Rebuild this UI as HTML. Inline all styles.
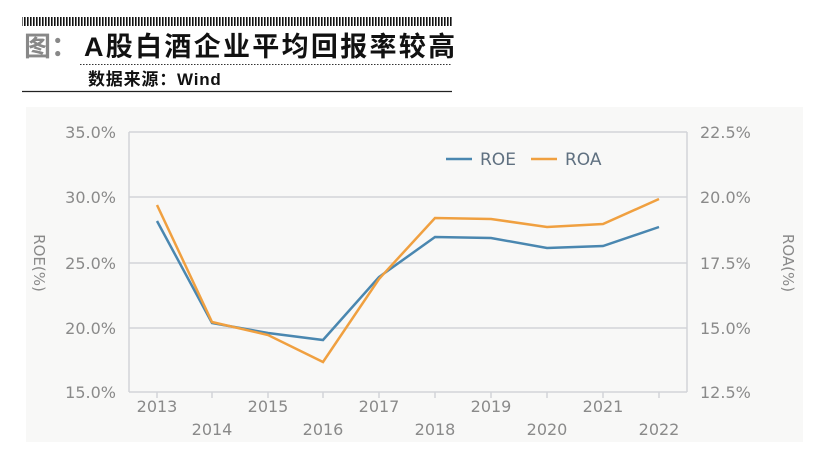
<!DOCTYPE html>
<html><head><meta charset="utf-8"><style>
body{margin:0;width:818px;height:462px;background:#fff;overflow:hidden;font-family:"Liberation Sans","Noto Sans CJK SC",sans-serif;}
</style></head><body>
<svg width="818" height="462" xmlns="http://www.w3.org/2000/svg" style="position:absolute;left:0;top:0">
<defs><pattern id="tk" width="3" height="9" patternUnits="userSpaceOnUse"><rect x="0" y="0" width="1.6" height="9" fill="#111"/></pattern></defs>
<rect x="22" y="17" width="430" height="9" fill="url(#tk)"/>
<text x="24" y="56" font-size="27" font-weight="bold" fill="#888" font-family="Noto Sans CJK SC,sans-serif">图：</text>
<text x="84" y="56" font-size="27" font-weight="bold" letter-spacing="2.3" fill="#111" font-family="Liberation Sans,Noto Sans CJK SC,sans-serif">A股白酒企业平均回报率较高</text>
<line x1="80" y1="64.5" x2="452" y2="64.5" stroke="#333" stroke-width="1" stroke-dasharray="1.5,1.5"/>
<text x="88" y="85" font-size="17" font-weight="bold" letter-spacing="0.8" fill="#111" font-family="Liberation Sans,Noto Sans CJK SC,sans-serif">数据来源：Wind</text>
<line x1="22" y1="91.5" x2="452" y2="91.5" stroke="#222" stroke-width="1.2"/>
<rect x="26" y="107" width="777" height="335" fill="#f8f8f7"/>
<g stroke="#d2d4d8" stroke-width="1.5" fill="none">
<line x1="129" y1="132" x2="687" y2="132"/><line x1="129" y1="197" x2="687" y2="197"/><line x1="129" y1="263" x2="687" y2="263"/><line x1="129" y1="328" x2="687" y2="328"/><line x1="129" y1="392" x2="687" y2="392"/>
<line x1="129" y1="132" x2="129" y2="392"/><line x1="687" y1="132" x2="687" y2="392"/>
<path d="M157 392v6M212 392v6M268 392v6M323 392v6M379 392v6M435 392v6M491 392v6M547 392v6M603 392v6M659 392v6"/>
</g>
<g font-size="16" fill="#8a8a8a" font-family="DejaVu Sans,sans-serif">
<g text-anchor="end"><text x="116" y="138">35.0%</text><text x="116" y="203">30.0%</text><text x="116" y="269">25.0%</text><text x="116" y="334">20.0%</text><text x="116" y="398">15.0%</text></g>
<g text-anchor="start"><text x="700" y="138">22.5%</text><text x="700" y="203">20.0%</text><text x="700" y="269">17.5%</text><text x="700" y="334">15.0%</text><text x="700" y="398">12.5%</text></g>
<g text-anchor="middle"><text x="157" y="412">2013</text><text x="268" y="412">2015</text><text x="379" y="412">2017</text><text x="491" y="412">2019</text><text x="603" y="412">2021</text>
<text x="212" y="435">2014</text><text x="323" y="435">2016</text><text x="435" y="435">2018</text><text x="547" y="435">2020</text><text x="659" y="435">2022</text></g>
<text transform="translate(34,263) rotate(90)" text-anchor="middle" font-size="15">ROE(%)</text>
<text transform="translate(783,263) rotate(90)" text-anchor="middle" font-size="15">ROA(%)</text>
</g>
<polyline fill="none" stroke="#4a87b0" stroke-width="2.5" points="157,221 212,323 268,333 323,340 379,277 435,237 491,238 547,248 603,246 659,227"/>
<polyline fill="none" stroke="#f0a040" stroke-width="2.5" points="157,205 212,322 268,335 323,362 379,279 435,218 491,219 547,227 603,224 659,199"/>
<line x1="446" y1="159" x2="472" y2="159" stroke="#4a87b0" stroke-width="2.5"/>
<text x="480" y="165" font-size="17" fill="#5f7080" font-family="DejaVu Sans,sans-serif">ROE</text>
<line x1="531" y1="159" x2="557" y2="159" stroke="#f0a040" stroke-width="2.5"/>
<text x="565" y="165" font-size="17" fill="#5f7080" font-family="DejaVu Sans,sans-serif">ROA</text>
</svg>
</body></html>
